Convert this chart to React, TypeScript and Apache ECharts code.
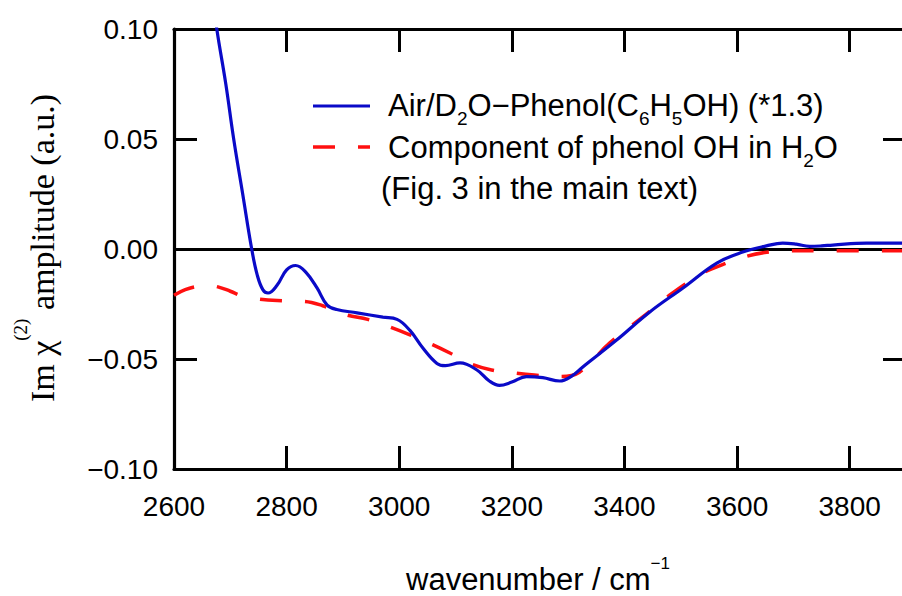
import React, { useEffect, useRef } from "react";
import * as echarts from "echarts";

// Air/D2O-Phenol (C6H5OH) (*1.3) – blue solid
const phenolWavenumber = [
  2660, 2676, 2692, 2706, 2722, 2738, 2748, 2758, 2767, 2783, 2800, 2816, 2834,
  2854, 2872, 2889, 2925, 2971, 2996, 3019, 3042, 3067, 3082, 3108, 3138, 3160,
  3178, 3200, 3226, 3255, 3285, 3305, 3326, 3386, 3445, 3504, 3564, 3610, 3652,
  3681, 3705, 3729, 3750, 3770, 3830, 3900,
];
const phenolAmplitude = [
  0.13, 0.1, 0.075, 0.05, 0.025, 0.0, -0.012, -0.0186, -0.02, -0.0165, -0.0095,
  -0.0075, -0.0105, -0.0177, -0.0255, -0.0275, -0.029, -0.031, -0.032, -0.037,
  -0.045, -0.052, -0.053, -0.0518, -0.055, -0.06, -0.062, -0.0605, -0.058,
  -0.0585, -0.06, -0.058, -0.0536, -0.0414, -0.0286, -0.0177, -0.0064, -0.0014,
  0.0014, 0.0027, 0.0022, 0.0012, 0.0014, 0.0018, 0.0027, 0.0027,
];

// Component of phenol OH in H2O – red dashed
const componentWavenumber = [
  2600, 2620, 2641, 2658, 2678, 2700, 2720, 2753, 2792, 2832, 2864, 2907, 2944,
  2983, 3019, 3060, 3090, 3125, 3164, 3205, 3240, 3285, 3320, 3374, 3432, 3480,
  3539, 3572, 3613, 3649, 3690, 3750, 3900,
];
const componentAmplitude = [
  -0.021, -0.0185, -0.017, -0.0164, -0.0172, -0.0192, -0.0212, -0.0228,
  -0.0235, -0.0238, -0.0258, -0.03, -0.032, -0.0354, -0.039, -0.0436, -0.0473,
  -0.052, -0.055, -0.0564, -0.0573, -0.058, -0.056, -0.0427, -0.031, -0.021,
  -0.011, -0.0073, -0.0036, -0.0016, -0.0008, -0.0008, -0.0008,
];

const X_MIN = 2600;
const X_MAX = 3900;
const X_INTERVAL = 200;
const Y_MIN = -0.1;
const Y_MAX = 0.1;
const Y_INTERVAL = 0.05;

const SANS = "'Liberation Sans', Arial, Helvetica, sans-serif";
const SERIF = "'Liberation Serif', 'Times New Roman', serif";
const BLUE = "#0a0ac8";
const RED = "#ff1010";

const pairs = (xs: number[], ys: number[]) => xs.map((x, i) => [x, ys[i]]);

const fmtY = (v: number) => {
  if (Math.abs(v) < 1e-9) return "0.00";
  return (v < 0 ? "\u2212" : "") + Math.abs(v).toFixed(2);
};

export default function App() {
  const ref = useRef<HTMLDivElement>(null);

  useEffect(() => {
    if (!ref.current) return;
    const chart = echarts.init(ref.current, undefined, { renderer: "svg" });

    const axisLine = { show: true, onZero: false, lineStyle: { color: "#000", width: 3.2 } };
    const axisTick = { show: true, inside: true, length: 23, lineStyle: { color: "#000", width: 3 } };

    chart.setOption({
      animation: false,
      backgroundColor: "#fff",
      grid: { left: 174, top: 29, right: -4, bottom: 127, outerBoundsMode: "none" },
      xAxis: [
        {
          type: "value",
          min: X_MIN,
          max: X_MAX,
          interval: X_INTERVAL,
          position: "bottom",
          axisLine,
          axisTick,
          splitLine: { show: false },
          axisLabel: {
            margin: 23,
            fontSize: 28,
            fontFamily: SANS,
            color: "#000",
            formatter: (v: number) => (v > 3850 ? "" : String(v)),
          },
        },
        {
          type: "value",
          min: X_MIN,
          max: X_MAX,
          interval: X_INTERVAL,
          position: "top",
          axisLine,
          axisTick,
          splitLine: { show: false },
          axisLabel: { show: false },
        },
      ],
      yAxis: [
        {
          type: "value",
          min: Y_MIN,
          max: Y_MAX,
          interval: Y_INTERVAL,
          position: "left",
          axisLine,
          axisTick,
          splitLine: { show: false },
          axisLabel: {
            margin: 16,
            fontSize: 28,
            fontFamily: SANS,
            color: "#000",
            formatter: fmtY,
          },
        },
        {
          type: "value",
          min: Y_MIN,
          max: Y_MAX,
          interval: Y_INTERVAL,
          position: "right",
          axisLine,
          axisTick,
          splitLine: { show: false },
          axisLabel: { show: false },
        },
      ],
      series: [
        {
          type: "line",
          name: "zero",
          data: [],
          silent: true,
          z: 1,
          markLine: {
            silent: true,
            z: 1,
            symbol: ["none", "none"],
            label: { show: false },
            lineStyle: { color: "#000", width: 3, type: "solid" },
            data: [{ yAxis: 0 }],
          },
        },
        {
          type: "line",
          name: "Component of phenol OH in H2O",
          data: pairs(componentWavenumber, componentAmplitude),
          symbol: "none",
          smooth: 0.4,
          z: 2,
          lineStyle: { color: RED, width: 3.5, type: [22, 23] },
        },
        {
          type: "line",
          name: "Air/D2O-Phenol(C6H5OH) (*1.3)",
          data: pairs(phenolWavenumber, phenolAmplitude),
          symbol: "none",
          smooth: 0.4,
          z: 3,
          lineStyle: { color: BLUE, width: 3.2 },
        },
      ],
      graphic: [
        {
          type: "line",
          shape: { x1: 313, y1: 106, x2: 370, y2: 106 },
          style: { stroke: BLUE, lineWidth: 3.2 },
        },
        {
          type: "line",
          shape: { x1: 313, y1: 147, x2: 370, y2: 147 },
          style: { stroke: RED, lineWidth: 3.5, lineDash: [22, 23] },
        },
        {
          type: "text",
          x: 388,
          y: 105,
          style: {
            text: "{n|Air/D}{s|2}{n|O\u2212Phenol(C}{s|6}{n|H}{s|5}{n|OH) (*1.3)}",
            fontSize: 31,
            fontFamily: SANS,
            fill: "#000",
            align: "left",
            verticalAlign: "middle",
            rich: {
              n: { fontSize: 31, fontFamily: SANS, fill: "#000" },
              s: { fontSize: 19, fontFamily: SANS, fill: "#000", padding: [26, 0, 0, 0] },
            },
          },
        },
        {
          type: "text",
          x: 388,
          y: 147,
          style: {
            text: "{n|Component of phenol OH in H}{s|2}{n|O}",
            fontSize: 31,
            fontFamily: SANS,
            fill: "#000",
            align: "left",
            verticalAlign: "middle",
            rich: {
              n: { fontSize: 31, fontFamily: SANS, fill: "#000" },
              s: { fontSize: 19, fontFamily: SANS, fill: "#000", padding: [26, 0, 0, 0] },
            },
          },
        },
        {
          type: "text",
          x: 381,
          y: 188,
          style: {
            text: "(Fig. 3 in the main text)",
            fontSize: 31,
            fontFamily: SANS,
            fill: "#000",
            align: "left",
            verticalAlign: "middle",
          },
        },
        {
          type: "text",
          x: 538,
          y: 579,
          style: {
            text: "{n|wavenumber / cm}{p|\u22121}",
            fontSize: 31,
            fontFamily: SANS,
            fill: "#000",
            align: "center",
            verticalAlign: "middle",
            rich: {
              n: { fontSize: 31, fontFamily: SANS, fill: "#000" },
              p: { fontSize: 17, fontFamily: SANS, fill: "#000", padding: [0, 0, 31, 0] },
            },
          },
        },
        {
          type: "text",
          x: 42,
          y: 248,
          rotation: Math.PI / 2,
          style: {
            text: "{n|Im \u03c7}{p|(2)}{n| amplitude (a.u.)}",
            fontSize: 34,
            fontFamily: SERIF,
            fill: "#000",
            align: "center",
            verticalAlign: "middle",
            rich: {
              n: { fontSize: 34, fontFamily: SERIF, fill: "#000" },
              p: { fontSize: 19, fontFamily: SERIF, fill: "#000", padding: [0, 0, 44, 0] },
            },
          },
        },
      ],
    });

    return () => chart.dispose();
  }, []);

  return (
    <div
      ref={ref}
      style={{ position: "absolute", left: 0, top: 0, width: 902, height: 596, background: "#fff" }}
    />
  );
}
